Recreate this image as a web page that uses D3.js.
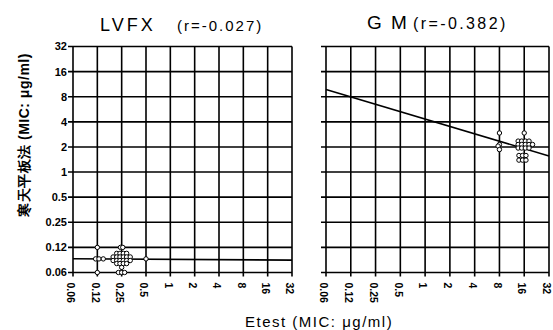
<!DOCTYPE html>
<html>
<head>
<meta charset="utf-8">
<script src="https://cdn.jsdelivr.net/npm/d3@7"></script>
<style>
  body { margin: 0; background: #fff; }
  svg text { font-family: "Liberation Sans", Arial, sans-serif; fill: #000; }
</style>
</head>
<body>
<div id="chart"></div>
<script>
// Etest vs agar plate MIC scatter, two panels (LVFX, GM)

// Axis ticks (log2 scale) and their printed labels
const tickValues = [0.0625, 0.125, 0.25, 0.5, 1, 2, 4, 8, 16, 32];
const tickLabels = ["0.06", "0.12", "0.25", "0.5", "1", "2", "4", "8", "16", "32"];

// LVFX points: Etest MIC (x) and agar plate MIC (y)
const lvfxX = [0.125, 0.242, 0.258,
  0.119, 0.131, 0.148, 0.5,
  0.217, 0.238, 0.262, 0.288,
  0.196, 0.217, 0.238, 0.262, 0.288, 0.319,
  0.196, 0.217, 0.238, 0.262, 0.288, 0.319,
  0.217, 0.238, 0.262, 0.288,
  0.25,
  0.228, 0.25, 0.272, 0.125];
const lvfxY = [0.125, 0.125, 0.125,
  0.091, 0.091, 0.091, 0.091,
  0.106, 0.106, 0.106, 0.106,
  0.096, 0.096, 0.096, 0.096, 0.096, 0.096,
  0.087, 0.087, 0.087, 0.087, 0.087, 0.087,
  0.080, 0.080, 0.080, 0.080,
  0.072,
  0.0625, 0.0625, 0.0625, 0.0625];

// GM points
const gmX = [8, 8, 7.7, 8, 16,
  13.5, 14.9, 16.5, 18.3,
  13.5, 14.9, 16.5, 18.3, 20.2,
  13.5, 14.9, 16.5, 18.3,
  13.8, 15.25, 16.8,
  13.8, 15.25, 16.8];
const gmY = [2.94, 2.14, 2.05, 1.86, 2.94,
  2.35, 2.35, 2.35, 2.35,
  2.14, 2.14, 2.14, 2.14, 2.14,
  1.94, 1.94, 1.94, 1.94,
  1.58, 1.58, 1.58,
  1.39, 1.39, 1.39];

// Regression lines in log2 space: log2(y) = a + b * log2(x)
const lvfxFit = { a: -3.478, b: -0.006 };
const gmFit = { a: 2.11, b: -0.294 };

const panels = [
  { name: "LVFX", r: "(r=-0.027)", xs: lvfxX, ys: lvfxY, fit: lvfxFit, left: 73, width: 219, yLabels: true,
    nameSize: 18, nameSpacing: 3, nameX: 100, nameY: 31, rSize: 15, rSpacing: 2, rX: 177 },
  { name: "G M", r: "(r=-0.382)", xs: gmX, ys: gmY, fit: gmFit, left: 326, width: 223, yLabels: false,
    nameSize: 19, nameSpacing: 2, nameX: 367, nameY: 29, rSize: 16, rSpacing: 2.4, rX: 413 }
];

const W = 553, H = 330;
const plotTop = 46.5, plotHeight = 226;

const svg = d3.select("#chart")
  .append("svg")
  .attr("width", W)
  .attr("height", H);

panels.forEach(p => {
  const x = d3.scaleLog().base(2)
    .domain([0.0625, 32])
    .range([p.left, p.left + p.width]);
  const y = d3.scaleLog().base(2)
    .domain([0.0625, 32])
    .range([plotTop + plotHeight, plotTop]);

  const g = svg.append("g");

  // vertical grid lines
  g.selectAll(".vgrid")
    .data(tickValues)
    .enter().append("line")
    .attr("x1", d => x(d)).attr("x2", d => x(d))
    .attr("y1", plotTop).attr("y2", plotTop + plotHeight + 4)
    .attr("stroke", "#000").attr("stroke-width", 1.6);

  // horizontal grid lines
  g.selectAll(".hgrid")
    .data(tickValues)
    .enter().append("line")
    .attr("x1", p.left - 5).attr("x2", p.left + p.width)
    .attr("y1", d => y(d)).attr("y2", d => y(d))
    .attr("stroke", "#000").attr("stroke-width", 1.6);

  // y tick labels (left panel only)
  if (p.yLabels) {
    g.selectAll(".ylab")
      .data(tickValues)
      .enter().append("text")
      .attr("x", p.left - 6)
      .attr("y", d => y(d))
      .attr("dy", "0.36em")
      .attr("text-anchor", "end")
      .style("font-size", "11px")
      .style("font-weight", "bold")
      .text((d, i) => tickLabels[i]);
  }

  // x tick labels, rotated to read downwards
  g.selectAll(".xlab")
    .data(tickValues)
    .enter().append("text")
    .attr("transform", d => `translate(${x(d) - 2},${plotTop + plotHeight + 10}) rotate(90)`)
    .attr("dy", "0.36em")
    .style("font-size", "10.5px")
    .style("font-weight", "bold")
    .text((d, i) => tickLabels[i]);

  // regression line
  const fitY = v => Math.pow(2, p.fit.a + p.fit.b * Math.log2(v));
  g.append("line")
    .attr("x1", x(0.0625)).attr("y1", y(fitY(0.0625)))
    .attr("x2", x(32)).attr("y2", y(fitY(32)))
    .attr("stroke", "#000").attr("stroke-width", 1.6);

  // points: open circles
  g.selectAll(".pt")
    .data(p.xs.map((v, i) => [v, p.ys[i]]))
    .enter().append("circle")
    .attr("cx", d => x(d[0]))
    .attr("cy", d => y(d[1]))
    .attr("r", 2.2)
    .attr("fill", "#fff")
    .attr("stroke", "#000")
    .attr("stroke-width", 1);

  // panel title
  const t = svg.append("text")
    .attr("x", p.nameX).attr("y", p.nameY);
  t.append("tspan")
    .style("font-size", p.nameSize + "px")
    .style("letter-spacing", p.nameSpacing + "px")
    .text(p.name);
  t.append("tspan")
    .attr("x", p.rX)
    .style("font-size", p.rSize + "px")
    .style("letter-spacing", p.rSpacing + "px")
    .text(p.r);
});

// axis titles
svg.append("text")
  .attr("transform", `translate(29,135) rotate(-90)`)
  .attr("text-anchor", "middle")
  .style("font-size", "14px")
  .style("font-weight", "bold")
  .style("letter-spacing", "0.5px")
  .text("寒天平板法 (MIC: μg/ml)");

svg.append("text")
  .attr("x", 245).attr("y", 327)
  .style("font-size", "15px")
  .style("letter-spacing", "1.5px")
  .text("Etest (MIC: μg/ml)");
</script>
</body>
</html>
